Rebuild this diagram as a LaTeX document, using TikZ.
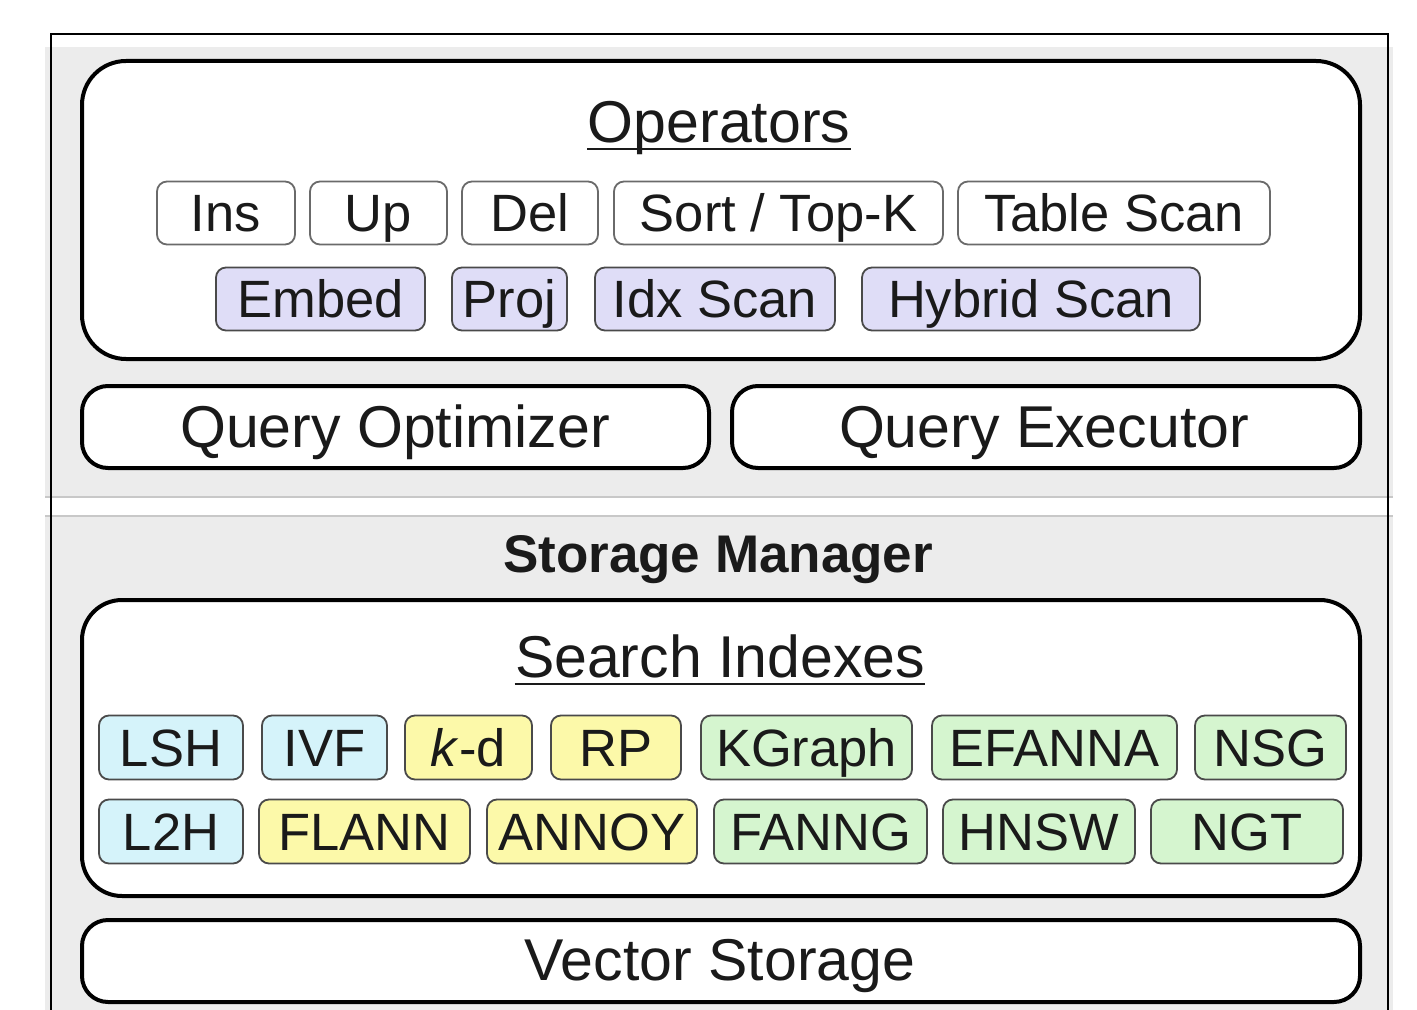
\documentclass[tikz,border=0pt]{standalone}
\usepackage{fontspec}
\setmainfont{Liberation Sans}
\usetikzlibrary{positioning}

\definecolor{panelgray}{HTML}{ECECEC}
\definecolor{paneledge}{HTML}{C8C8C8}
\definecolor{cyanfill}{HTML}{D5F3FA}
\definecolor{yellowfill}{HTML}{FCF9A9}
\definecolor{greenfill}{HTML}{D5F5CF}
\definecolor{lavfill}{HTML}{DFDDF7}
\definecolor{chipedge}{HTML}{6A6A6A}
\definecolor{chipdark}{HTML}{4A4A4A}
\definecolor{ink}{HTML}{1A1A1A}

% a small labelled box given by its left/right/top/bottom edges (in px units)
\newcommand{\chip}[7]{%
  \node[#1, minimum width={(#4-#3)*0.5pt}, minimum height={(#6-#5)*0.5pt}]
    (#2) at ({(#3+#4)/2},{(#5+#6)/2+1.5}) {#7};}
% a large layer box given the same way
\newcommand{\layer}[7]{%
  \node[#1, minimum width={(#4-#3)*0.5pt}, minimum height={(#6-#5)*0.5pt}]
    (#2) at ({(#3+#4)/2},{(#5+#6)/2}) {#7};}

\tikzset{
  chipbase/.style={rectangle, rounded corners=5pt, line width=0.9pt, inner sep=0pt,
    text=ink, font=\fontsize{26.25}{30}\selectfont, text height=18.8pt, text depth=0pt},
  opchip/.style={chipbase, draw=chipedge, fill=white},
  embchip/.style={chipbase, draw=chipdark, fill=lavfill},
  hashchip/.style={chipbase, draw=chipdark, fill=cyanfill},
  treechip/.style={chipbase, draw=chipdark, fill=yellowfill},
  graphchip/.style={chipbase, draw=chipdark, fill=greenfill},
  bigbox/.style={rectangle, draw=black, line width=2pt, fill=white, inner sep=0pt},
  heading/.style={inner sep=0pt, anchor=base, text=ink, font=\fontsize{29.5}{34}\selectfont},
  panel/.style={fill=panelgray, draw=paneledge, line width=1pt},
  uline/.style={line width=1pt, draw=ink}
}

\begin{document}
\begin{tikzpicture}[x=0.5pt, y=-0.5pt]
  \useasboundingbox (0,0) rectangle (1417,1010);

  % grey background panels of the two layers
  \fill[panelgray] (45,47) rectangle (1393,498);
  \draw[paneledge, line width=1pt] (45,497) -- (1393,497);
  \fill[panelgray] (45,515) rectangle (1393,1012);
  \draw[paneledge, line width=1pt] (45,516) -- (1393,516);

  % thin outer frame
  \draw[black, line width=0.8pt] (51,1012) -- (51,34) -- (1388,34) -- (1388,1012);

  % ---------------- query layer ----------------
  \layer{bigbox, rounded corners=22pt}{opsbox}{82}{1360}{61}{359}{}
  \node[heading] (opstitle) at (719,143) {Operators};
  \draw[uline] ([yshift=-3pt]opstitle.base west) -- ([yshift=-3pt]opstitle.base east);

  \chip{opchip}{ins}{157}{295}{180}{243}{Ins}
  \chip{opchip}{up}{310}{447}{180}{243}{Up}
  \chip{opchip}{del}{462}{598}{180}{243}{Del}
  \chip{opchip}{sort}{614}{943}{180}{243}{Sort / Top-K}
  \chip{opchip}{tscan}{958}{1270}{180}{243}{Table Scan}

  \chip{embchip}{embed}{216}{425}{266}{329}{Embed}
  \chip{embchip}{proj}{452}{567}{266}{329}{Proj}
  \chip{embchip}{iscan}{595}{835}{266}{329}{Idx Scan}
  \chip{embchip}{hscan}{862}{1200}{266}{329}{Hybrid Scan}

  \layer{bigbox, rounded corners=13pt}{qopt}{82}{709}{386}{468}{}
  \node[heading] (qopttext) at (395,447) {Query Optimizer};
  \layer{bigbox, rounded corners=13pt}{qexec}{732}{1360}{386}{468}{}
  \node[heading] (qexectext) at (1044,447) {Query Executor};

  % ---------------- storage layer ----------------
  \node[inner sep=0pt, anchor=base, text=ink, font=\fontsize{26.5}{30}\selectfont\bfseries]
    (smtitle) at (718,572) {Storage Manager};

  \layer{bigbox, rounded corners=20pt}{idxbox}{82}{1360}{600}{896}{}
  \node[heading] (idxtitle) at (720,677) {Search Indexes};
  \draw[uline] ([yshift=-3.5pt]idxtitle.base west) -- ([yshift=-3.5pt]idxtitle.base east);

  \chip{hashchip}{lsh}{99}{243}{714}{778}{LSH}
  \chip{hashchip}{ivf}{262}{387}{714}{778}{IVF}
  \chip{treechip}{kd}{405}{532}{714}{778}{\textit{k}-d}
  \chip{treechip}{rp}{551}{681}{714}{778}{RP}
  \chip{graphchip}{kgraph}{701}{912}{714}{778}{KGraph}
  \chip{graphchip}{efanna}{932}{1177}{714}{778}{EFANNA}
  \chip{graphchip}{nsg}{1195}{1346}{714}{778}{NSG}

  \chip{hashchip}{ltwoh}{99}{243}{798}{862}{L2H}
  \chip{treechip}{flann}{259}{470}{798}{862}{FLANN}
  \chip{treechip}{annoy}{487}{697}{798}{862}{ANNOY}
  \chip{graphchip}{fanng}{714}{927}{798}{862}{FANNG}
  \chip{graphchip}{hnsw}{943}{1135}{798}{862}{HNSW}
  \chip{graphchip}{ngt}{1151}{1343}{798}{862}{NGT}

  \layer{bigbox, rounded corners=13pt}{vstore}{82}{1360}{920}{1002}{}
  \node[heading] (vstoretext) at (720,980) {Vector Storage};
\end{tikzpicture}
\end{document}
